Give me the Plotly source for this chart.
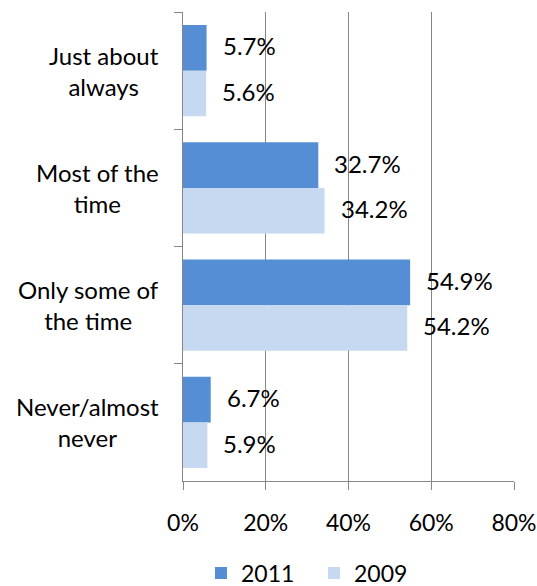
import plotly.graph_objects as go

categories = ["Just about always", "Most of the time", "Only some of the time", "Never/almost never"]
cat_labels = ["Just about<br>always", "Most of the<br>time", "Only some of<br>the time", "Never/almost<br>never"]
series_names = ["2011", "2009"]
values_2011 = [5.7, 32.7, 54.9, 6.7]
values_2009 = [5.6, 34.2, 54.2, 5.9]
x_ticks = [0, 20, 40, 60, 80]
x_tick_labels = ["0%", "20%", "40%", "60%", "80%"]

colors = ["#558ED5", "#C6D9F1"]
FONT = "Lato"
FS = 24
GRID = "#868686"

fig = go.Figure()
for name, vals, col in zip(series_names, [values_2011, values_2009], colors):
    fig.add_trace(go.Bar(
        y=categories, x=vals, name=name, orientation="h",
        marker=dict(color=col, line=dict(width=0)),
    ))

# geometry
left, right, top, bottom = 182.5, 22.5, 12, 105
H, W = 586, 537
plot_h = H - top - bottom
cat_px = plot_h / len(categories)
bargap = 0.22
bar_px = cat_px * (1 - bargap) / 2

annotations = []
for vals, sign in [(values_2011, -1), (values_2009, 1)]:
    for c, v in zip(categories, vals):
        annotations.append(dict(
            x=v, y=c, xref="x", yref="y", text=f"{v:.1f}%",
            showarrow=False, xanchor="left", yanchor="middle",
            xshift=14, yshift=-sign * bar_px / 2 + 2,
            font=dict(family=FONT, size=FS, color="#000000"),
        ))
for c, lab in zip(categories, cat_labels):
    annotations.append(dict(
        x=0, y=c, xref="paper", yref="y", text=lab, showarrow=False,
        xanchor="right", yanchor="middle", align="center", xshift=-22,
        font=dict(family=FONT, size=FS, color="#000000"),
    ))

fig.update_layout(
    width=W, height=H,
    margin=dict(l=left, r=right, t=top, b=bottom, autoexpand=False),
    paper_bgcolor="white", plot_bgcolor="white",
    barmode="group", bargap=bargap, bargroupgap=0,
    font=dict(family=FONT, size=FS, color="#000000"),
    showlegend=True,
    legend=dict(orientation="h", xref="container", x=201 / 537, xanchor="left",
                yref="container", y=1 - 573 / 586, yanchor="middle",
                font=dict(family=FONT, size=23, color="#000000"),
                traceorder="normal", itemwidth=30,
                entrywidth=68, entrywidthmode="pixels"),
    annotations=annotations,
)
fig.update_xaxes(
    range=[0, 80], tickvals=x_ticks, ticktext=x_tick_labels,
    showgrid=True, gridcolor=GRID, gridwidth=1,
    showline=True, linecolor=GRID, linewidth=1,
    ticks="outside", ticklen=8, tickcolor=GRID, tickwidth=1,
    zeroline=False, tickfont=dict(family=FONT, size=23, color="#000000"),
    ticklabelstandoff=13, ticklabeloverflow="allow",
)
fig.update_yaxes(
    autorange="reversed", showticklabels=False,
    showline=True, linecolor=GRID, linewidth=1,
    ticks="outside", ticklen=8, tickcolor=GRID, tickwidth=1, tickson="boundaries",
    showgrid=False, zeroline=False,
)
fig.write_html("out.html")
